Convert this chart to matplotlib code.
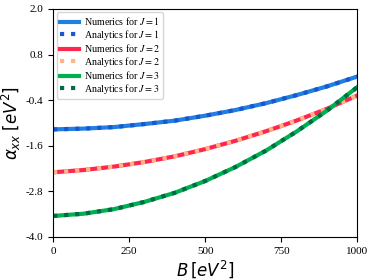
import matplotlib
matplotlib.use("Agg")
import matplotlib.pyplot as plt

# magnetic field values and polarizability
B = [0, 100, 200, 300, 400, 500, 600, 700, 800, 900, 1000]
alpha_j1 = [-1.17, -1.15, -1.11, -1.03, -0.94, -0.81, -0.66, -0.48, -0.27, -0.04, 0.22]
alpha_j2 = [-2.30, -2.24, -2.15, -2.03, -1.88, -1.69, -1.47, -1.22, -0.94, -0.63, -0.28]
alpha_j3 = [-3.45, -3.39, -3.27, -3.08, -2.84, -2.53, -2.16, -1.73, -1.23, -0.68, -0.06]
yticks = [-4.0, -2.8, -1.6, -0.4, 0.8, 2.0]
xticks = [0, 250, 500, 750, 1000]

plt.rcParams['font.family'] = ['Liberation Serif', 'DejaVu Serif']
plt.rcParams['mathtext.fontset'] = 'dejavusans'

fig = plt.figure(figsize=(3.74, 2.80), dpi=100)
ax = fig.add_axes([0.142, 0.154, 0.813, 0.814])

series = [
    (alpha_j1, '#1f80e0', '#1a55d4', 1),
    (alpha_j2, '#ff2650', '#ffb584', 2),
    (alpha_j3, '#00b050', '#006b45', 3),
]
for vals, c_num, c_ana, j in series:
    ax.plot(B, vals, color=c_num, lw=3, label='Numerics for $J=%d$' % j)
    ax.plot(B, vals, color=c_ana, lw=3, ls=':', label='Analytics for $J=%d$' % j)

ax.set_xlim(0, 1000)
ax.set_ylim(-4.0, 2.0)
ax.set_xticks(xticks)
ax.set_yticks(yticks)
ax.set_yticklabels(['%.1f' % t for t in yticks])
ax.tick_params(labelsize=8, length=3.5, width=0.8)
ax.set_xlabel(r'$B\,[eV^2]$', fontsize=12, labelpad=2)
ax.set_ylabel(r'$\alpha_{xx}\;[eV^2]$', fontsize=12, labelpad=2)

leg = ax.legend(loc='upper left', fontsize=7.2, handlelength=1.9, labelspacing=0.05,
                borderpad=0.3, handletextpad=0.5, borderaxespad=0.35)
for t in leg.get_texts():
    t.set_math_fontfamily('stix')

fig.savefig('out.png', dpi=100)
